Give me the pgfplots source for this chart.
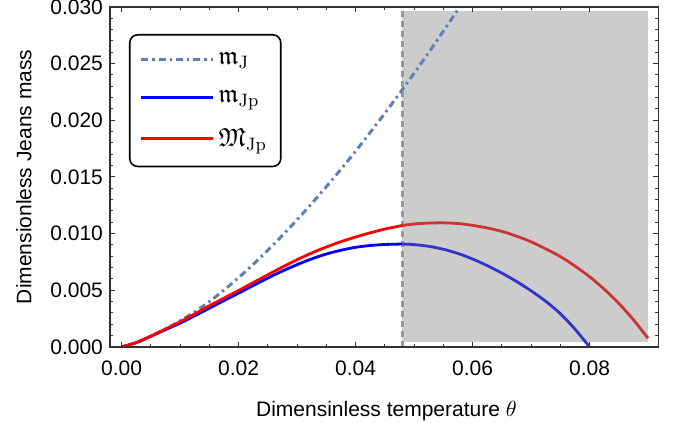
\documentclass[border=0pt]{standalone}
\usepackage{amssymb}
\usepackage[no-math]{fontspec}
\setmainfont{Liberation Sans}
\usepackage{pgfplots}
\pgfplotsset{compat=1.18}

\definecolor{mjblue}{HTML}{5E81B5}
\definecolor{shade}{HTML}{CCCCCC}
\definecolor{dimblue}{HTML}{3333CC}
\definecolor{dimred}{HTML}{CC3333}
\definecolor{vline}{HTML}{999999}
\definecolor{framec}{HTML}{333333}

\begin{document}
\begin{tikzpicture}
\begin{axis}[
    scale only axis,
    width=274.35pt, height=170pt,
    xmin=-0.002, xmax=0.0918,
    ymin=0, ymax=0.03,
    xtick={0,0.02,0.04,0.06,0.08},
    ytick={0,0.005,0.01,0.015,0.02,0.025,0.03},
    minor x tick num=3,
    minor y tick num=4,
    scaled x ticks=false, scaled y ticks=false,
    tick align=inside,
    major tick length=2.7pt, minor tick length=1.7pt,
    axis line style={framec, line width=0.6pt},
    every tick/.style={framec, line width=0.5pt},
    x tick label style={/pgf/number format/.cd, fixed, fixed zerofill, precision=2, assume math mode=true, /tikz/.cd, yshift=-3.5pt},
    y tick label style={/pgf/number format/.cd, fixed, fixed zerofill, precision=3, assume math mode=true, /tikz/.cd},
    tick label style={font=\fontsize{10.5}{12}\selectfont},
    label style={font=\fontsize{10.5}{12}\selectfont},
    xlabel={Dimensinless temperature $\theta$},
    ylabel={Dimensionless Jeans mass},
    xlabel style={at={(axis description cs:0.504,-0.188)}, anchor=center},
    ylabel style={at={(axis description cs:-0.157,0.5)}, anchor=center},
    axis on top,
    legend style={at={(axis description cs:0.0346,0.9206)}, anchor=north west,
        draw=black, line width=0.8pt, rounded corners=4pt,
        font=\fontsize{13}{15}\selectfont,
        inner xsep=5pt, inner ysep=6.5pt, row sep=7.5pt,
        cells={anchor=west}},
    legend cell align=left,
    legend image code/.code={\draw[#1, line width=1.5pt, rounded corners=0pt] (0pt,0pt) -- (36pt,0pt);},
]
% shaded region
\addplot[draw=none, fill=shade, forget plot] coordinates {
    (0.048,0.00045) (0.09,0.00045) (0.09,0.02965) (0.048,0.02965)} -- cycle;
\addplot[vline, line width=1.6pt, dash pattern=on 3pt off 2pt, forget plot] coordinates {
    (0.048,0) (0.048,0.03)};

% m_J
\addplot[mjblue, line width=1.5pt, dash pattern=on 3.5pt off 2pt on 1.2pt off 2pt, smooth] coordinates {
    (0,0) (0.0025,0.00038) (0.005,0.00096) (0.0075,0.00158) (0.01,0.00230)
    (0.0125,0.00310) (0.015,0.00400) (0.0175,0.00502) (0.02,0.00611)
    (0.0225,0.00729) (0.025,0.00854) (0.0275,0.00985) (0.03,0.01122)
    (0.0325,0.01266) (0.035,0.01414) (0.0375,0.01568) (0.04,0.01728)
    (0.0425,0.01893) (0.045,0.02062) (0.0475,0.02236) (0.05,0.02415)
    (0.0525,0.02598) (0.055,0.02786) (0.0575,0.02978) (0.06,0.03175)};
\addlegendentry{$\mathfrak{m}_{\mathrm{J}}$}

% m_Jp
\addplot[blue, line width=1.4pt, smooth] coordinates {
    (0,0) (0.0025,0.00038) (0.005,0.00094) (0.0075,0.00152) (0.01,0.00210)
    (0.0125,0.00275) (0.015,0.00342) (0.0175,0.00409) (0.02,0.00475)
    (0.0225,0.00542) (0.025,0.00608) (0.0275,0.00670) (0.03,0.00726)
    (0.0325,0.00777) (0.035,0.00820) (0.0375,0.00853) (0.04,0.00879)
    (0.0425,0.00895) (0.045,0.00904) (0.048,0.00908)};
\addlegendentry{$\mathfrak{m}_{\mathrm{Jp}}$}

% M_Jp
\addplot[red, line width=1.4pt, smooth] coordinates {
    (0,0) (0.0025,0.00038) (0.005,0.00096) (0.0075,0.00158) (0.01,0.00222)
    (0.0125,0.00292) (0.015,0.00363) (0.0175,0.00431) (0.02,0.00498)
    (0.0225,0.00568) (0.025,0.00637) (0.0275,0.00705) (0.03,0.00770)
    (0.0325,0.00829) (0.035,0.00882) (0.0375,0.00929) (0.04,0.00970)
    (0.0425,0.01007) (0.045,0.01040) (0.048,0.01072)};
\addlegendentry{$\mathfrak{M}_{\mathrm{Jp}}$}

% parts inside the shaded region
\addplot[dimblue, line width=1.4pt, smooth, forget plot] coordinates {
    (0.048,0.00908) (0.05,0.00903) (0.0525,0.00888) (0.055,0.00862)
    (0.0575,0.00825) (0.06,0.00776) (0.0625,0.00718) (0.065,0.00652)
    (0.0675,0.00578) (0.07,0.00496) (0.0725,0.00403) (0.075,0.00294)
    (0.0775,0.00158) (0.08,0)};
\addplot[dimred, line width=1.4pt, smooth, forget plot] coordinates {
    (0.048,0.01072) (0.05,0.01085) (0.0525,0.01093) (0.055,0.01095)
    (0.0575,0.01089) (0.06,0.01073) (0.0625,0.01050) (0.065,0.01020)
    (0.0675,0.00978) (0.07,0.00928) (0.0725,0.00866) (0.075,0.00798)
    (0.0775,0.00714) (0.08,0.00620) (0.0825,0.00510) (0.085,0.00385)
    (0.0875,0.00240) (0.09,0.00077)};
\end{axis}
\pgfresetboundingbox
\path ([shift={(-55pt,-41.5pt)}]current axis.south west) rectangle ([shift={(13.75pt,3.5pt)}]current axis.north east);
\end{tikzpicture}
\end{document}
